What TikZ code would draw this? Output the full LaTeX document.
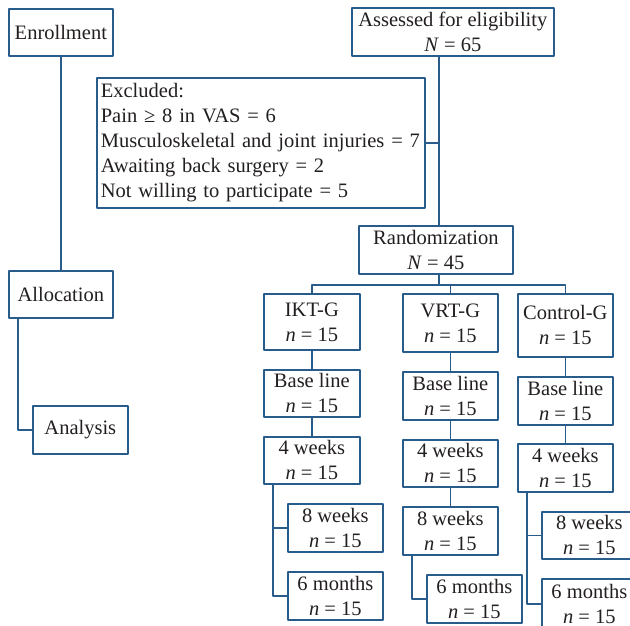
\documentclass[tikz,border=0pt]{standalone}
\usepackage{fontspec}
\setmainfont{Liberation Serif}
\usepackage{tikz}

\begin{document}
\begin{tikzpicture}[x=1pt, y=-1pt, line join=round, line cap=round,
    box/.style={draw=boxcolor, line width=1.7pt, fill=white, text=textcolor,
        inner sep=0pt, align=center, anchor=north west,
        font=\fontsize{20.5}{25}\selectfont},
    link/.style={draw=boxcolor, line width=1.7pt}]
        \definecolor{boxcolor}{RGB}{40,92,138}
        \definecolor{textcolor}{RGB}{35,31,32}

        \useasboundingbox (0,0) rectangle (630,626);
        \clip (0,0) rectangle (630,626);

        % left column
        \node[box, minimum width=104pt, minimum height=47pt] (enroll) at (8,8) {Enrollment};
        \node[box, minimum width=104pt, minimum height=47pt] (alloc) at (8,270) {Allocation};
        \node[box, minimum width=95pt, minimum height=48pt] (analysis) at (32,405) {Analysis};

        % screening
        \node[box, minimum width=202pt, minimum height=48pt] (assess) at (351,7) {Assessed for eligibility\\\textit{N} = 65};
        \node[box, text width=324pt, inner xsep=2pt, align=left, minimum height=130pt] (excl) at (96,77)
            {\hspace*{2pt}Excluded:\\\hspace*{2pt}Pain ≥ 8 in VAS = 6\\\hspace*{2pt}Musculoskeletal and joint injuries = 7\\\hspace*{2pt}Awaiting back surgery = 2\\\hspace*{2pt}Not willing to participate = 5};
        \node[box, minimum width=154pt, minimum height=48pt] (random) at (358,225) {Randomization\\\textit{N} = 45};

        % groups
        \node[box, minimum width=96pt, minimum height=56pt] (ikt) at (263,293) {IKT-G\\\textit{n} = 15};
        \node[box, minimum width=95pt, minimum height=58pt] (vrt) at (402,293) {VRT-G\\\textit{n} = 15};
        \node[box, minimum width=95pt, minimum height=63pt] (ctrl) at (517,293) {Control-G\\\textit{n} = 15};

        \node[box, minimum width=96pt, minimum height=47pt] (baseI) at (263,369) {Base line\\\textit{n} = 15};
        \node[box, minimum width=95pt, minimum height=48pt] (baseV) at (402,371) {Base line\\\textit{n} = 15};
        \node[box, minimum width=95pt, minimum height=48pt] (baseC) at (517,376) {Base line\\\textit{n} = 15};

        \node[box, minimum width=96pt, minimum height=47pt] (wfourI) at (263,436) {4 weeks\\\textit{n} = 15};
        \node[box, minimum width=95pt, minimum height=47pt] (wfourV) at (402,439) {4 weeks\\\textit{n} = 15};
        \node[box, minimum width=95pt, minimum height=48pt] (wfourC) at (517,443) {4 weeks\\\textit{n} = 15};

        \node[box, minimum width=95pt, minimum height=48pt] (weightI) at (287,503) {8 weeks\\\textit{n} = 15};
        \node[box, minimum width=95pt, minimum height=48pt] (weightV) at (402,506) {8 weeks\\\textit{n} = 15};
        \node[box, minimum width=95pt, minimum height=47pt] (weightC) at (541,511) {8 weeks\\\textit{n} = 15};

        \node[box, minimum width=95pt, minimum height=48pt] (msixI) at (287,571) {6 months\\\textit{n} = 15};
        \node[box, minimum width=95pt, minimum height=48pt] (msixV) at (426,574) {6 months\\\textit{n} = 15};
        \node[box, minimum width=95pt, minimum height=50pt] (msixC) at (541,578) {6 months\\\textit{n} = 15};

        % connectors
        \draw[link] (enroll) -- (alloc);
        \draw[link] ([xshift=10pt]alloc.south west) |- (analysis.west);

        \coordinate (spine) at ([xshift=3pt]random.north);
        \draw[link] (spine) -- (spine |- assess.south);
        \draw[link] (excl.east) -- (excl.east -| spine);
        \draw[link] ([xshift=3pt]random.south) -- ++(0,10) coordinate (bus);
        \draw[link] (ikt.north) |- (bus) -| (ctrl.north);
        \draw[link] (vrt.north) -- (vrt.north |- bus);

        \draw[link] (ikt) -- (baseI) -- (wfourI);
        \draw[link] ([xshift=10pt]wfourI.south west) |- (weightI.west);
        \draw[link] ([xshift=10pt]wfourI.south west) |- (msixI.west);

        \draw[link] (vrt) -- (baseV) -- (wfourV) -- (weightV);
        \draw[link] ([xshift=10pt]weightV.south west) |- (msixV.west);

        \draw[link] (ctrl) -- (baseC) -- (wfourC);
        \draw[link] ([xshift=10pt]wfourC.south west) |- (weightC.west);
        \draw[link] ([xshift=10pt]wfourC.south west) |- (msixC.west);
    \end{tikzpicture}
\end{document}
